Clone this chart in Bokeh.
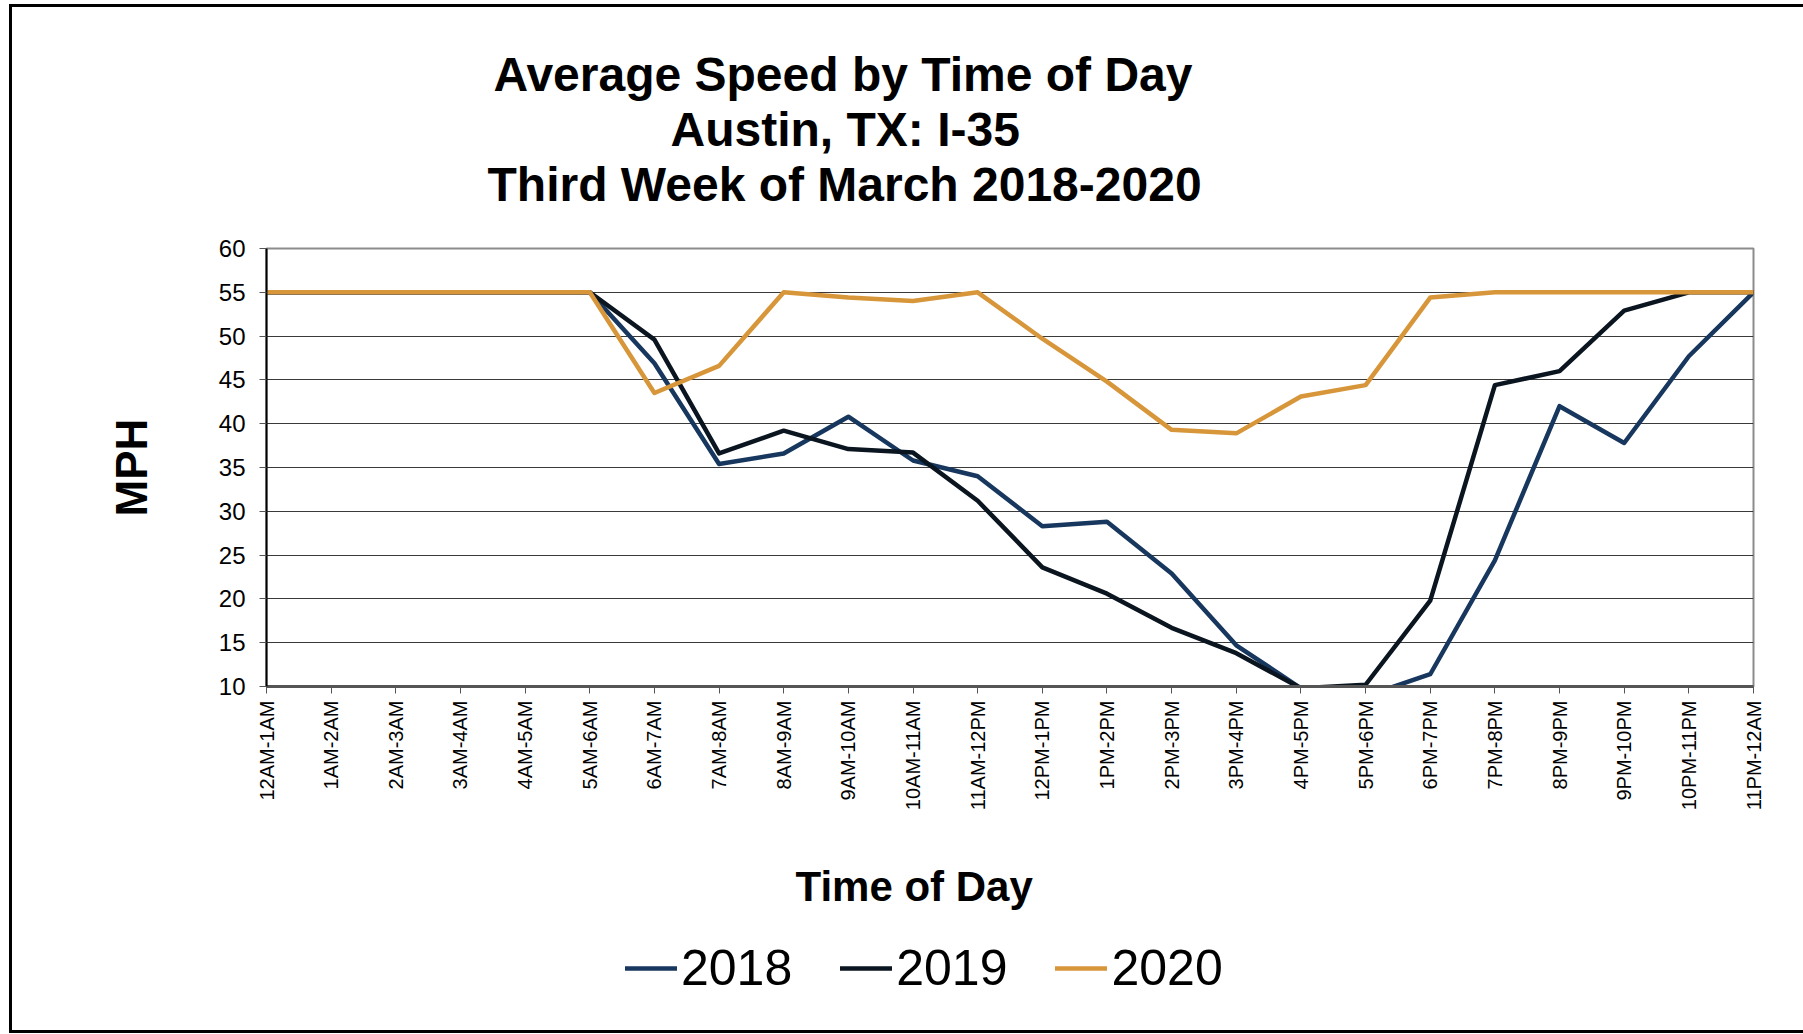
import math
from bokeh.plotting import figure
from bokeh.layouts import column
from bokeh.models import Range1d, FixedTicker, Legend, LegendItem, ColumnDataSource, Title
from bokeh.embed import file_html
from bokeh.resources import INLINE

time_labels = ["12AM-1AM", "1AM-2AM", "2AM-3AM", "3AM-4AM", "4AM-5AM", "5AM-6AM",
               "6AM-7AM", "7AM-8AM", "8AM-9AM", "9AM-10AM", "10AM-11AM", "11AM-12PM",
               "12PM-1PM", "1PM-2PM", "2PM-3PM", "3PM-4PM", "4PM-5PM", "5PM-6PM",
               "6PM-7PM", "7PM-8PM", "8PM-9PM", "9PM-10PM", "10PM-11PM", "11PM-12AM"]

speed_2018 = [55, 55, 55, 55, 55, 55, 46.9, 35.4, 36.6, 40.8, 35.8, 34.0,
              28.3, 28.8, 22.9, 14.7, 9.8, 8.9, 11.4, 24.4, 42.0, 37.8, 47.7, 55]
speed_2019 = [55, 55, 55, 55, 55, 55, 49.6, 36.6, 39.2, 37.1, 36.7, 31.2,
              23.6, 20.6, 16.7, 13.8, 9.8, 10.2, 19.8, 44.4, 46.0, 52.9, 55, 55]
speed_2020 = [55, 55, 55, 55, 55, 55, 43.5, 46.6, 55.0, 54.4, 54.0, 55.0,
              49.7, 44.8, 39.3, 38.9, 43.1, 44.4, 54.4, 55, 55, 55, 55, 55]

years = ["2018", "2019", "2020"]
colors = ["#17375E", "#0A1520", "#D8963A"]
y_ticks = list(range(10, 61, 5))

title_lines = ["Average Speed by Time of Day", "Austin, TX: I-35", "Third Week of March 2018-2020"]
x_title = "Time of Day"
y_title = "MPH"

idx = list(range(len(time_labels)))
source = ColumnDataSource(data=dict(x=idx, y2018=speed_2018, y2019=speed_2019, y2020=speed_2020))

FONT = "Liberation Sans"

p = figure(frame_width=1487, frame_height=438,
           x_range=Range1d(0, len(time_labels) - 1), y_range=Range1d(10, 60),
           output_backend="svg", toolbar_location=None,
           min_border_left=254, min_border_right=50, min_border_top=241, min_border_bottom=244)

p.background_fill_color = "white"
p.border_fill_color = "white"
p.outline_line_color = "#8c8c8c"
p.outline_line_width = 2

# x axis
p.xaxis.ticker = FixedTicker(ticks=idx)
p.xaxis.major_label_overrides = {i: lab for i, lab in enumerate(time_labels)}
p.xaxis.major_label_orientation = math.pi / 2
p.xaxis.major_label_text_font = FONT
p.xaxis.major_label_text_font_size = "20px"
p.xaxis.major_label_text_color = "black"
p.xaxis.major_label_standoff = 7
p.xaxis.axis_line_color = "#555555"
p.xaxis.axis_line_width = 3
p.xaxis.major_tick_line_color = "#555555"
p.xaxis.major_tick_in = 0
p.xaxis.major_tick_out = 7
p.xaxis.minor_tick_line_color = None

# y axis
p.yaxis.ticker = FixedTicker(ticks=y_ticks)
p.yaxis.major_label_text_font = FONT
p.yaxis.major_label_text_font_size = "24px"
p.yaxis.major_label_text_color = "black"
p.yaxis.major_label_standoff = 14
p.yaxis.axis_line_color = "black"
p.yaxis.axis_line_width = 2
p.yaxis.major_tick_line_color = "#555555"
p.yaxis.major_tick_in = 0
p.yaxis.major_tick_out = 7
p.yaxis.minor_tick_line_color = None
p.yaxis.axis_label = y_title
p.yaxis.axis_label_text_font = FONT
p.yaxis.axis_label_text_font_style = "bold"
p.yaxis.axis_label_text_font_size = "44px"
p.yaxis.axis_label_text_color = "black"
p.yaxis.axis_label_standoff = 60

p.xgrid.visible = False
p.ygrid.grid_line_color = "#3a3a3a"
p.ygrid.grid_line_width = 1

renderers = []
for yr, col in zip(years, colors):
    r = p.line("x", "y" + yr, source=source, line_color=col, line_width=4.5,
               line_join="round", line_cap="round")
    renderers.append(r)

# below: spacer, x title
p.add_layout(Title(text=" ", text_font_size="42px", standoff=0), "below")
p.add_layout(Title(text=x_title, align="left", offset=529, standoff=0,
                   text_font=FONT, text_font_style="bold", text_font_size="42px",
                   text_color="black", vertical_align="top"), "below")

# titles: spacer nearest the frame, then lines from bottom to top
p.add_layout(Title(text=" ", text_font_size="32px", standoff=0), "above")
title_offsets = [227, 404, 221]
for t, off in reversed(list(zip(title_lines, title_offsets))):
    p.add_layout(Title(text=t, align="left", offset=off, standoff=0,
                       text_font=FONT, text_font_style="bold", text_font_size="48px",
                       text_color="black", vertical_align="bottom"), "above")

# legend strip below the chart (its series lines fall outside this strip's view)
leg = figure(width=1791, height=100, x_range=Range1d(0, 1), y_range=Range1d(-2, -1),
             x_axis_type=None, y_axis_type=None, output_backend="svg", toolbar_location=None,
             min_border=0, min_border_left=0, min_border_right=0, min_border_top=0, min_border_bottom=0)
leg.outline_line_color = None
leg.background_fill_color = "white"
leg.border_fill_color = "white"
leg_renderers = []
for yr, col in zip(years, colors):
    leg_renderers.append(leg.line("x", "y" + yr, source=source, line_color=col,
                                  line_width=4.5, line_cap="round"))

legend = Legend(items=[LegendItem(label=yr, renderers=[r]) for yr, r in zip(years, leg_renderers)],
                orientation="horizontal", location=(359, 33),
                glyph_width=52, glyph_height=20, label_standoff=4, spacing=48,
                padding=0, margin=0, border_line_color=None, background_fill_alpha=0,
                label_text_font=FONT, label_text_font_size="50px", label_text_color="black",
                label_height=20)
leg.add_layout(legend)

layout = column(p, leg, spacing=0)
layout.styles = {"border-top": "3px solid black", "border-left": "3px solid black",
                 "border-bottom": "3px solid black", "margin-left": "9px", "margin-top": "4px"}

open("out.html", "w").write(file_html(layout, INLINE))
